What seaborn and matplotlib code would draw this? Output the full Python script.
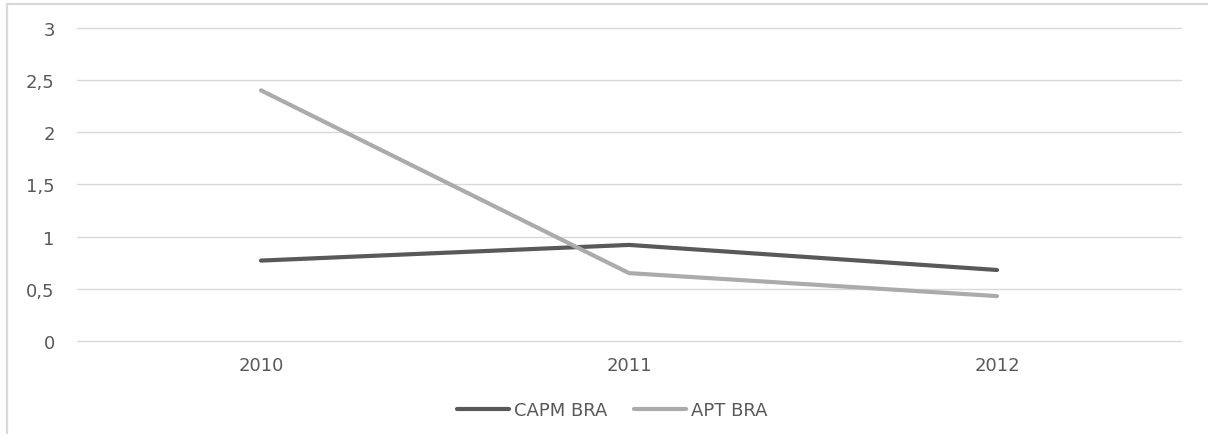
import matplotlib
matplotlib.use("Agg")
import matplotlib.pyplot as plt
from matplotlib.patches import Rectangle
from matplotlib.ticker import FuncFormatter, MultipleLocator
import pandas as pd
import seaborn as sns

years = ["2010", "2011", "2012"]
capm_bra = [0.77, 0.92, 0.68]
apt_bra = [2.40, 0.65, 0.43]
series_names = ["CAPM BRA", "APT BRA"]

df = pd.DataFrame({
    "year": years * 2,
    "value": capm_bra + apt_bra,
    "series": [series_names[0]] * len(years) + [series_names[1]] * len(years),
})

sns.set_theme(style="white")
plt.rcParams["font.family"] = ["DejaVu Sans"]

fig = plt.figure(figsize=(12.08, 4.35), dpi=100)
ax = fig.add_axes([77 / 1208, 1 - 342 / 435, (1181 - 77) / 1208, (342 - 28.7) / 435])

palette = {"CAPM BRA": "#595959", "APT BRA": "#ababab"}
sns.lineplot(data=df, x="year", y="value", hue="series", palette=palette,
             linewidth=3.0, sort=False, ax=ax, legend=False, zorder=3)

ax.set_xlim(-0.5, 2.5)
ax.set_ylim(0, 3)
ax.yaxis.set_major_locator(MultipleLocator(0.5))
ax.yaxis.set_major_formatter(FuncFormatter(lambda v, p: f"{v:g}".replace(".", ",")))
ax.grid(axis="y", color="#d9d9d9", linewidth=1.0)
ax.grid(axis="x", visible=False)
for gl in ax.get_ygridlines():
    gl.set_clip_on(False)
for s in ax.spines.values():
    s.set_visible(False)
ax.tick_params(axis="both", length=0, labelsize=13, colors="#595959")
ax.tick_params(axis="y", pad=16)
ax.tick_params(axis="x", pad=11)
ax.set_xlabel("")
ax.set_ylabel("")

handles = [plt.Line2D([0], [0], color=palette[n], linewidth=3.0) for n in series_names]
fig.legend(handles, series_names, loc="center", bbox_to_anchor=(612 / 1208, 1 - 411 / 435),
           ncol=2, frameon=False, fontsize=13, handlelength=2.9, handletextpad=0.25,
           columnspacing=1.5, labelcolor="#595959")

# chart area border
fig.patches.append(Rectangle((7 / 1208, -0.1), 1.2, 1 - 5 / 435 + 0.1,
                             transform=fig.transFigure, fill=False,
                             edgecolor="#d9d9d9", linewidth=1.6, zorder=0))

fig.savefig("out.png", dpi=100, facecolor="white")
